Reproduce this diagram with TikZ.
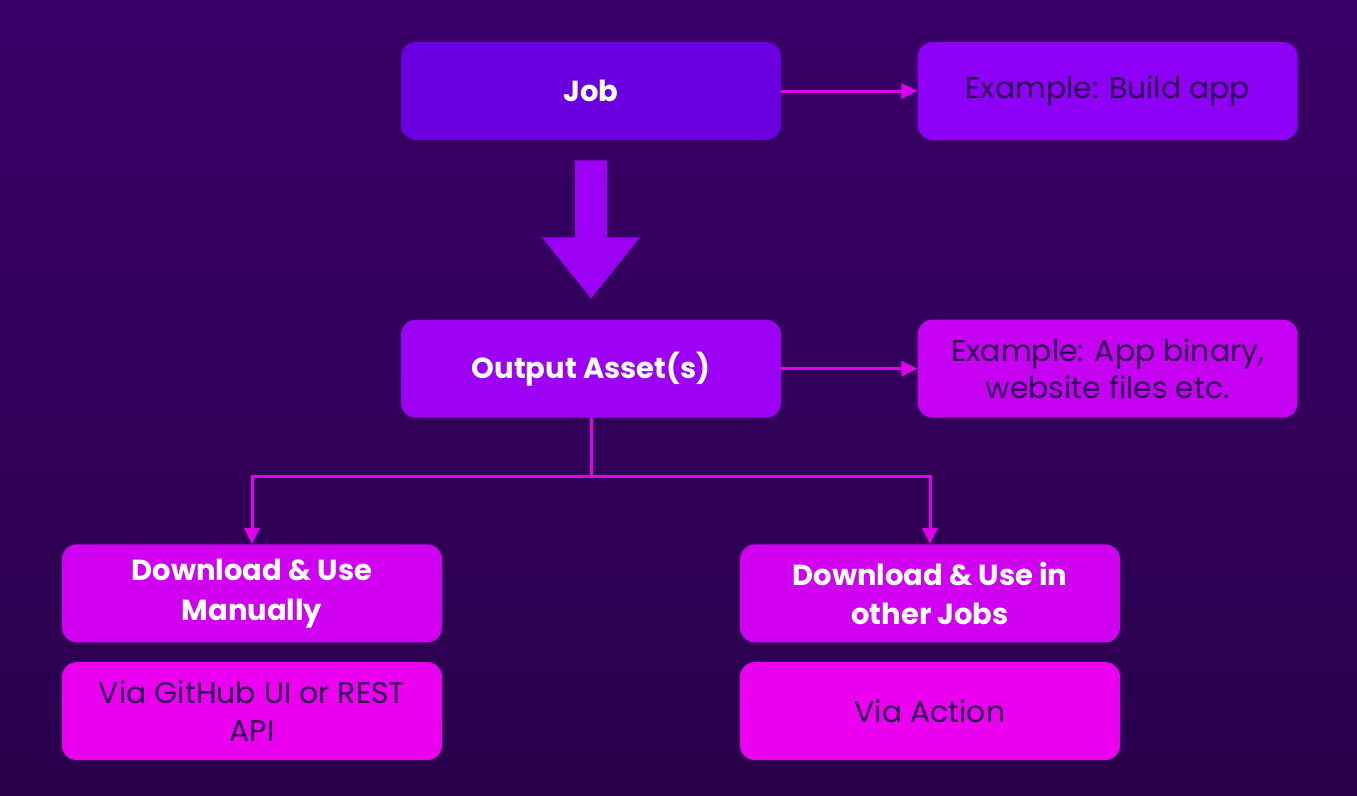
\documentclass[tikz,border=0pt]{standalone}
\usepackage{fontspec}
\setmainfont{Poppins}
\usepackage{tikz}
\usetikzlibrary{positioning, calc, arrows.meta}

\definecolor{bgtop}{HTML}{3A0068}
\definecolor{bgbottom}{HTML}{2A004C}
\definecolor{jobfill}{HTML}{6A00E0}
\definecolor{buildfill}{HTML}{8E00F5}
\definecolor{outfill}{HTML}{9C00F5}
\definecolor{binfill}{HTML}{C600F0}
\definecolor{dlfill}{HTML}{D000F0}
\definecolor{viafill}{HTML}{EC00F0}
\definecolor{linkcol}{HTML}{E000EC}
\definecolor{darktext}{HTML}{2C0050}

\begin{document}
\begin{tikzpicture}[
    box/.style={rectangle, rounded corners=0.3cm, align=center, minimum width=7.6cm, minimum height=1.96cm},
    title/.style={box, text=white, font=\fontsize{16.5}{22.5}\selectfont\bfseries},
    note/.style={box, text=darktext, font=\fontsize{17}{21.5}\selectfont},
    arrow/.style={-{Triangle[length=0.32cm, width=0.3cm]}, draw=linkcol, line width=0.06cm}
]
% background
\shade[top color=bgtop, bottom color=bgbottom] (0,0) rectangle (27.14,-15.9);
\useasboundingbox (0,0) rectangle (27.14,-15.9);

\node[title, fill=jobfill] (job) at (11.82,-1.82) {Job};
\node[note, fill=buildfill, right=2.72cm of job] (build) {Example: Build app};
\node[title, fill=outfill, below=3.58cm of job] (output) {Output Asset(s)};
\node[note, fill=binfill, right=2.72cm of output] (binary) {Example: App binary,\\website files etc.};

\node[title, fill=dlfill, below=2.52cm of output, xshift=-6.78cm] (manual) {Download \& Use\\Manually};
\node[note, fill=viafill, below=0.38cm of manual] (rest) {Via GitHub UI or REST\\API};
\node[title, fill=dlfill, below=2.52cm of output, xshift=6.78cm] (otherjobs) {Download \& Use in\\other Jobs};
\node[note, fill=viafill, below=0.38cm of otherjobs] (action) {Via Action};

% big arrow between job and output
\fill[outfill] ($(job.south)+(-0.32,-0.4)$) -- ++(0.64,0) -- ++(0,-1.54)
    -- ++(0.66,0) -- ($(output.north)+(0,0.42)$) -- ($(job.south)+(-0.98,-1.94)$)
    -- ++(0.66,0) -- cycle;

\draw[arrow] (job) -- (build);
\draw[arrow] (output) -- (binary);

\coordinate[below=1.16cm of output.south] (split);
\draw[arrow] (output.south) -- (split) -| (manual.north);
\draw[arrow] (split) -| (otherjobs.north);
\end{tikzpicture}
\end{document}
